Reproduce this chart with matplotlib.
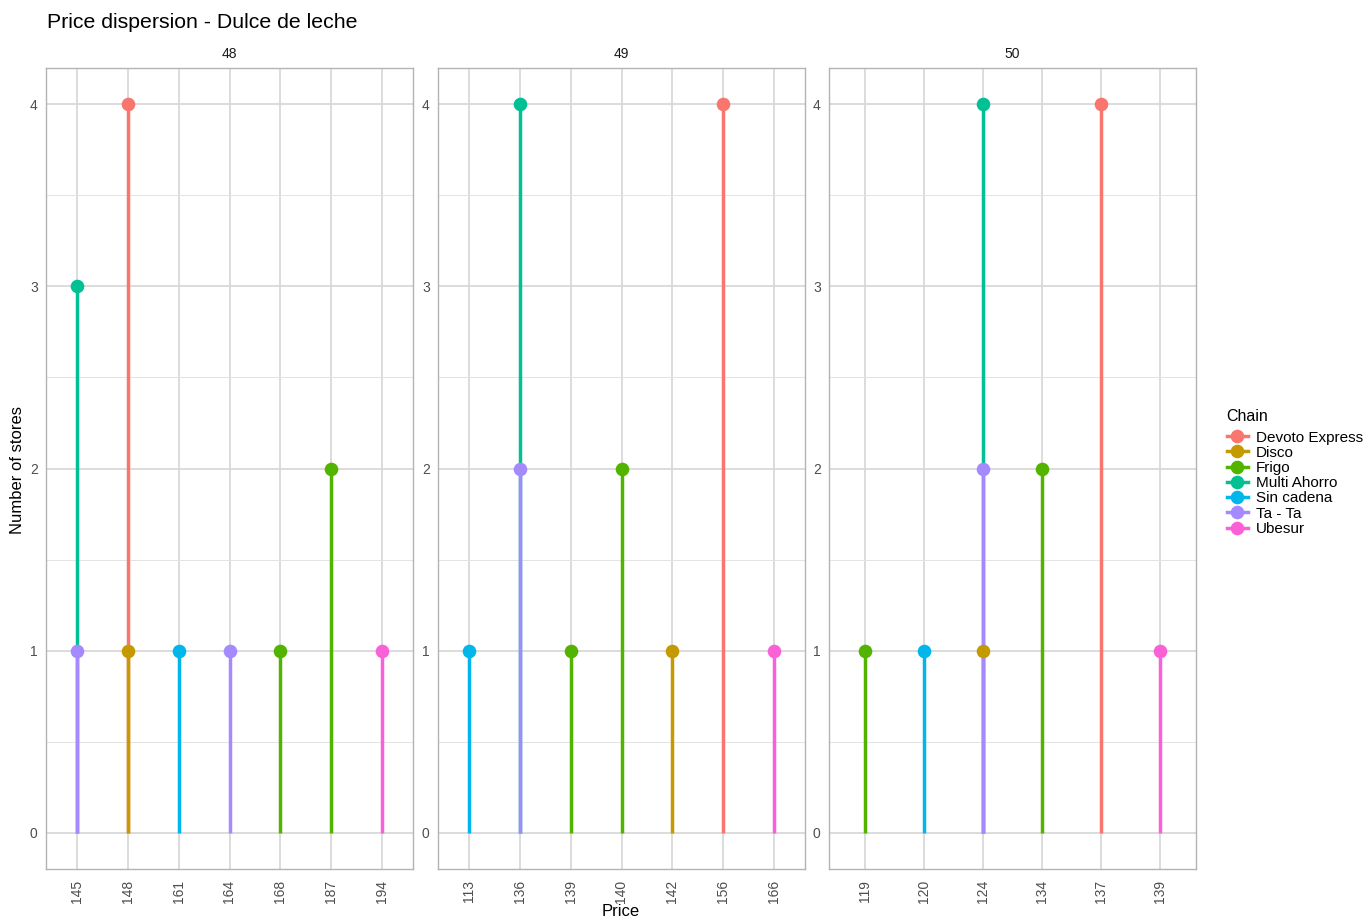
import matplotlib.pyplot as plt
from matplotlib.lines import Line2D
from matplotlib.ticker import MultipleLocator

plt.rcParams['font.family'] = ['Liberation Sans', 'DejaVu Sans']

# Data: one row per (week, price, chain)
week   = [48, 48, 48, 48, 48, 48, 48, 48, 48,
          49, 49, 49, 49, 49, 49, 49, 49,
          50, 50, 50, 50, 50, 50, 50, 50]
price  = [145, 145, 148, 148, 161, 164, 168, 187, 194,
          113, 136, 136, 139, 140, 142, 156, 166,
          119, 120, 124, 124, 124, 134, 137, 139]
chain  = ["Multi Ahorro", "Ta - Ta", "Devoto Express", "Disco", "Sin cadena", "Ta - Ta", "Frigo", "Frigo", "Ubesur",
          "Sin cadena", "Multi Ahorro", "Ta - Ta", "Frigo", "Frigo", "Disco", "Devoto Express", "Ubesur",
          "Frigo", "Sin cadena", "Multi Ahorro", "Ta - Ta", "Disco", "Frigo", "Devoto Express", "Ubesur"]
stores = [3, 1, 4, 1, 1, 1, 1, 2, 1,
          1, 4, 2, 1, 2, 1, 4, 1,
          1, 1, 4, 2, 1, 2, 4, 1]

chains = ["Devoto Express", "Disco", "Frigo", "Multi Ahorro", "Sin cadena", "Ta - Ta", "Ubesur"]
colors = ["#F8766D", "#C49A00", "#53B400", "#00C094", "#00B6EB", "#A58AFF", "#FB61D7"]
weeks = [48, 49, 50]

W, H = 1371, 919
fig = plt.figure(figsize=(W / 100, H / 100), dpi=100)

panels_x = [(46, 413), (438, 805), (829, 1196)]
py0, py1 = 68, 869

lw = 2.5
ms = 9.8

for (x0, x1), wk in zip(panels_x, weeks):
    ax = fig.add_axes([x0 / W, 1 - py1 / H, (x1 - x0) / W, (py1 - py0) / H])
    rows = [i for i in range(len(week)) if week[i] == wk]
    cats = sorted(set(price[i] for i in rows))
    pos = {p: k for k, p in enumerate(cats)}

    # segments first (in chain order), then points
    for c, col in zip(chains, colors):
        for i in rows:
            if chain[i] == c:
                ax.plot([pos[price[i]], pos[price[i]]], [0, stores[i]], color=col, lw=lw,
                        solid_capstyle='butt', zorder=3)
    for c, col in zip(chains, colors):
        for i in rows:
            if chain[i] == c:
                ax.plot(pos[price[i]], stores[i], 'o', color=col, ms=ms, mec='none', zorder=4)

    ax.set_xlim(-0.6, len(cats) - 1 + 0.6)
    ax.set_ylim(-0.2, 4.2)
    ax.set_xticks(range(len(cats)))
    ax.set_xticklabels([str(p) for p in cats], rotation=90)
    ax.yaxis.set_major_locator(MultipleLocator(1))
    ax.yaxis.set_minor_locator(MultipleLocator(0.5))
    ax.grid(True, which='major', color='#D6D6D6', lw=1.2, zorder=0)
    ax.grid(True, which='minor', axis='y', color='#E3E3E3', lw=0.7, zorder=0)
    ax.set_axisbelow(True)
    ax.tick_params(which='both', length=0, labelsize=10, labelcolor='#4D4D4D', pad=6)
    ax.tick_params(axis='x', pad=8)
    for s in ax.spines.values():
        s.set_color('#B3B3B3')
        s.set_linewidth(1.0)
    ax.set_title(str(wk), fontsize=10, color='#1A1A1A', pad=7)

fig.text(47 / W, 1 - 22 / H, "Price dispersion - Dulce de leche", fontsize=15.3,
         ha='left', va='center', color='black')
fig.text(18 / W, 1 - 470 / H, "Number of stores", fontsize=12, rotation=90,
         ha='center', va='center')
fig.text(621 / W, 1 - 911 / H, "Price", fontsize=12, ha='center', va='center')

handles = [Line2D([0], [0], color=col, lw=lw, marker='o', ms=ms, mec='none') for col in colors]
leg = fig.legend(handles, chains, title="Chain", loc='upper left',
                 bbox_to_anchor=(1219 / W, 1 - 401 / H), frameon=False,
                 fontsize=11, title_fontsize=11.5, handlelength=1.4,
                 handletextpad=0.5, labelspacing=0.08, borderpad=0)
leg._legend_box.align = "left"
leg._legend_box.sep = 5

fig.savefig("out.png", dpi=100)
